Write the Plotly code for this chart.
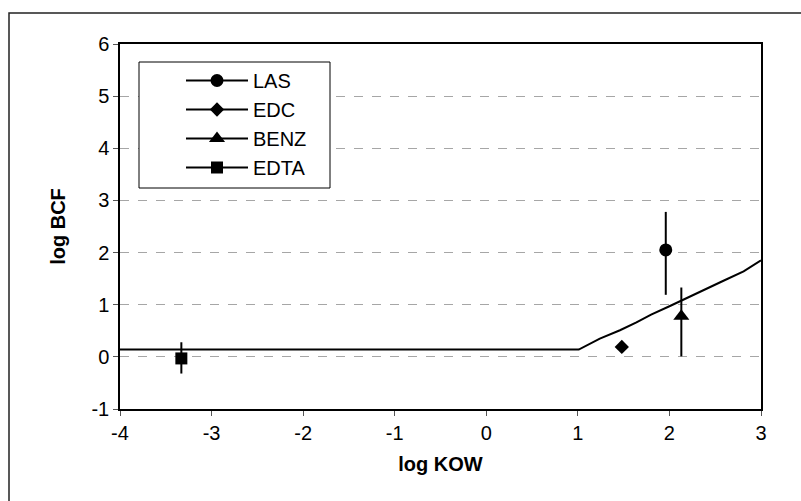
import plotly.graph_objects as go

# ---- data ----
las_x = [1.96]
las_y = [2.05]
las_err_plus = [0.73]
las_err_minus = [0.86]

edc_x = [1.48]
edc_y = [0.19]

benz_x = [2.13]
benz_y = [0.78]
benz_err_plus = [0.55]
benz_err_minus = [0.77]

edta_x = [-3.33]
edta_y = [-0.03]
edta_err_plus = [0.31]
edta_err_minus = [0.29]

model_x = [-4.0, 1.01, 1.24, 1.46, 1.64, 1.80, 2.00, 2.13, 2.26, 2.42, 2.59, 2.81, 3.0]
model_y = [0.14, 0.14, 0.35, 0.51, 0.66, 0.81, 0.97, 1.08, 1.19, 1.32, 1.46, 1.64, 1.85]

x_ticks = [-4, -3, -2, -1, 0, 1, 2, 3]
y_ticks = [-1, 0, 1, 2, 3, 4, 5, 6]

FONT = "Liberation Sans Narrow, Liberation Sans, Arial, sans-serif"

fig = go.Figure()

fig.add_trace(go.Scatter(x=model_x, y=model_y, mode="lines",
                         line=dict(color="black", width=2), showlegend=False,
                         hoverinfo="skip"))

def pt(name, x, y, symbol, size, ep=None, em=None):
    kw = {}
    if ep is not None:
        kw["error_y"] = dict(type="data", symmetric=False, array=ep, arrayminus=em,
                             color="black", thickness=2, width=0)
    fig.add_trace(go.Scatter(x=x, y=y, name=name, mode="lines+markers",
                             legendgroup=name,
                             marker=dict(symbol=symbol, size=size, color="black"),
                             line=dict(color="black", width=2), **kw))

pt("LAS", las_x, las_y, "circle", 13, las_err_plus, las_err_minus)
pt("EDC", edc_x, edc_y, "diamond", 11)
pt("BENZ", benz_x, benz_y, "triangle-up", 14, benz_err_plus, benz_err_minus)
pt("EDTA", edta_x, edta_y, "square", 12, edta_err_plus, edta_err_minus)

PL, PT, PW, PH = 120, 44, 641, 365

def px(xpix):
    return (xpix - PL) / PW

def py(ypix):
    return (PT + PH - ypix) / PH

fig.update_layout(
    width=801, height=501,
    margin=dict(l=PL, r=801 - PL - PW, t=PT, b=501 - PT - PH),
    paper_bgcolor="white", plot_bgcolor="white",
    font=dict(family=FONT, size=20, color="black"),
    showlegend=True,
    legend=dict(x=px(181), y=py(61), xanchor="left", yanchor="top",
                bgcolor="rgba(0,0,0,0)", borderwidth=0,
                font=dict(family=FONT, size=20, color="black"),
                tracegroupgap=3, itemwidth=62,
                traceorder="normal"),
    xaxis=dict(range=[-4, 3], tickvals=x_ticks, ticktext=[str(v) for v in x_ticks],
               tickfont=dict(family=FONT, size=20),
               showgrid=False, zeroline=False,
               showline=True, linecolor="black", linewidth=1.5, mirror=True,
               ticks="outside", ticklen=5, tickcolor="#555", tickwidth=1,
               title=dict(text="<b>log KOW</b>", font=dict(family=FONT, size=20), standoff=14)),
    yaxis=dict(range=[-1, 6], tickvals=y_ticks, ticktext=[str(v) for v in y_ticks],
               tickfont=dict(family=FONT, size=20),
               showgrid=True, gridcolor="#a6a6a6", griddash="dash", gridwidth=1,
               zeroline=False,
               showline=True, linecolor="black", linewidth=1.5, mirror=True,
               ticks="outside", ticklen=5, tickcolor="#555", tickwidth=1,
               title=dict(text="<b>log BCF</b>", font=dict(family=FONT, size=20), standoff=20)),
    shapes=[
        dict(type="rect", xref="paper", yref="paper",
             x0=px(9), x1=px(815), y0=py(515), y1=py(13),
             line=dict(color="#222", width=1.5), fillcolor="rgba(0,0,0,0)",
             layer="below"),
        dict(type="rect", xref="paper", yref="paper",
             x0=px(139), x1=px(330), y0=py(188), y1=py(62),
             line=dict(color="black", width=1), fillcolor="white",
             layer="above"),
    ],
)

fig.write_html("out.html")
